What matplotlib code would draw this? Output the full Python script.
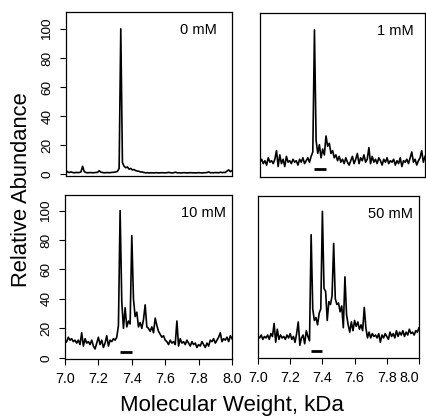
import matplotlib
matplotlib.use('Agg')
import matplotlib.pyplot as plt
import numpy as np

plt.rcParams['font.family'] = ['Liberation Sans', 'DejaVu Sans']

# mass grid, kDa (instrument sampling every 0.01 kDa)
mass = np.round(np.arange(7.00, 8.001, 0.01), 2)

ab_0mM = [2.8, 1.5, 1.2, 1.6, 1.2, 1.0, 1.3, 1.1, 1.2, 1.6,
          5.5, 1.8, 1.2, 1.0, 1.1, 1.2, 1.0, 1.1, 1.2, 1.3,
          2.4, 1.4, 1.2, 1.0, 1.1, 1.2, 1.0, 1.2, 1.3, 1.4,
          1.6, 2.0, 4.0, 100, 8.0, 5.5, 4.5, 5.0, 3.5, 4.0,
          3.0, 3.2, 2.5, 2.2, 2.0, 1.6, 1.5, 1.2, 1.0, 1.1,
          0.9, 1.0, 1.0, 0.9, 1.1, 1.0, 0.9, 1.0, 1.1, 1.0,
          1.0, 1.1, 1.3, 1.0, 0.9, 1.1, 1.4, 1.0, 1.0, 0.9,
          1.0, 1.1, 1.0, 0.9, 1.0, 1.1, 1.0, 1.0, 0.9, 1.0,
          1.1, 1.0, 0.9, 1.0, 1.1, 1.2, 1.6, 1.0, 1.1, 1.0,
          1.2, 1.1, 1.0, 1.4, 1.1, 1.3, 1.2, 2.2, 3.0, 1.8, 2.5]

ab_1mM = [9, 11, 8, 10, 7, 12, 9, 10, 8, 11,
          17, 6, 14, 8, 11, 6, 13, 9, 10, 8,
          11, 9, 10, 7, 11, 9, 12, 8, 10, 12,
          9, 13, 16, 100, 24, 15, 21, 12, 18, 14,
          27, 20, 22, 15, 17, 12, 14, 10, 13, 9,
          11, 8, 12, 9, 7, 10, 13, 8, 11, 15,
          8, 12, 10, 14, 9, 11, 19, 8, 13, 9,
          11, 8, 12, 10, 7, 11, 9, 12, 8, 10,
          9, 11, 7, 10, 8, 12, 6, 10, 9, 11,
          8, 12, 16, 9, 11, 7, 10, 12, 17, 9, 13]

ab_10mM = [10, 11, 14, 12, 13, 11, 12, 10, 12, 9,
           17, 8, 13, 10, 11, 9, 12, 8, 6, 10,
           14, 9, 12, 7, 10, 15, 8, 12, 11, 13,
           12, 14, 22, 100, 38, 20, 34, 21, 25, 23,
           83, 40, 28, 31, 21, 24, 20, 26, 36, 21,
           20, 18, 21, 17, 27, 22, 18, 16, 14, 15,
           12, 11, 9, 12, 10, 11, 9, 25, 8, 13,
           10, 11, 9, 12, 10, 8, 11, 9, 10, 7,
           9, 8, 11, 9, 7, 10, 8, 12, 11, 13,
           10, 12, 14, 17, 11, 13, 12, 14, 11, 15, 13]

ab_50mM = [14, 13, 15, 12, 14, 13, 15, 12, 16, 14,
           23, 10, 19, 12, 15, 13, 14, 12, 15, 13,
           16, 12, 14, 10, 16, 24, 8, 13, 15, 9,
           18, 14, 11, 84, 33, 25, 27, 22, 30, 33,
           100, 47, 45, 25, 38, 36, 42, 78, 40, 36,
           37, 31, 35, 20, 55, 29, 22, 17, 24, 18,
           25, 21, 24, 19, 22, 18, 34, 20, 13, 17,
           13, 16, 14, 15, 13, 16, 10, 15, 13, 16,
           14, 12, 17, 14, 16, 13, 18, 14, 17, 15,
           18, 14, 17, 15, 19, 16, 17, 15, 18, 17, 20]

spectra = [ab_0mM, ab_1mM, ab_10mM, ab_50mM]
conc_labels = ['0 mM', '1 mM', '10 mM', '50 mM']
show_bar = [False, True, True, True]
bar_span = (7.33, 7.40)
bar_level = 4

x_ticks = [7.0, 7.2, 7.4, 7.6, 7.8, 8.0]
y_ticks = [0, 20, 40, 60, 80, 100]

W, H = 427, 419
fig = plt.figure(figsize=(W / 100, H / 100), dpi=100)

# panel boxes in pixels: left, right, top, bottom
boxes = [(66, 232, 12, 176), (260, 425, 13, 177),
         (65, 232, 195, 359), (258, 419, 196, 358)]
ylims = [(-1.2, 111.6), (-1.2, 111.6), (-0.8, 110.6), (-0.8, 110.6)]
label_x = [0.80, 0.82, 0.83, 0.82]

for i, (l, r, t, b) in enumerate(boxes):
    ax = fig.add_axes([l / W, 1 - b / H, (r - l) / W, (b - t) / H])
    ax.plot(mass, spectra[i], color='black', lw=1.2)
    if show_bar[i]:
        ax.plot(bar_span, [bar_level, bar_level], color='black', lw=2.0,
                solid_capstyle='butt')
    ax.set_xlim(7.0, 8.0)
    ax.set_ylim(*ylims[i])
    ax.text(label_x[i], 0.89, conc_labels[i], transform=ax.transAxes,
            ha='center', va='center', fontsize=10.5)
    for s in ax.spines.values():
        s.set_linewidth(0.9)
    ax.tick_params(direction='out', length=4, width=0.8, pad=5)
    ax.tick_params(axis='x', labelsize=10.3)
    ax.tick_params(axis='y', labelsize=9.7)
    ax.set_xticks(x_ticks)
    ax.set_xticklabels(['%.1f' % v for v in x_ticks])
    ax.set_yticks(y_ticks)
    ax.set_yticklabels([str(v) for v in y_ticks], rotation=90, va='center')
    if i < 2:
        ax.tick_params(bottom=False, labelbottom=False)
    if i % 2 == 1:
        ax.tick_params(left=False, labelleft=False)
    if i == 3:
        ax.get_xticklabels()[-1].set_horizontalalignment('right')

fig.text(22 / W, 1 - 190 / H, 'Relative Abundance', rotation=90,
         ha='center', va='center', fontsize=15.8)
fig.text(232 / W, 1 - 405 / H, 'Molecular Weight, kDa',
         ha='center', va='center', fontsize=16)

fig.savefig('out.png', dpi=100)
